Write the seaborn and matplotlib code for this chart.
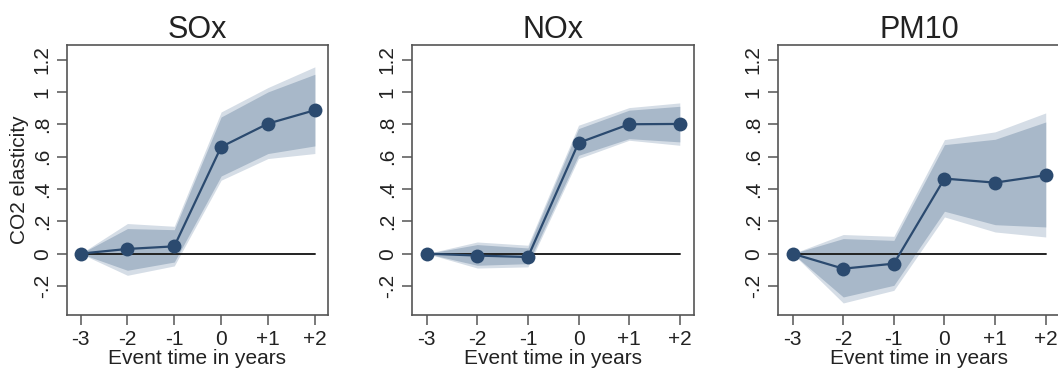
import pandas as pd
import numpy as np
import seaborn as sns
import matplotlib.pyplot as plt

# Data
event_time = [-3, -2, -1, 0, 1, 2]
tick_labels = ["-3", "-2", "-1", "0", "+1", "+2"]
pollutants = ["SOx", "NOx", "PM10"]

sox_coef = [0.0, 0.029, 0.045, 0.660, 0.804, 0.887]
sox_hi95 = [0.0, 0.186, 0.169, 0.876, 1.027, 1.155]
sox_lo95 = [0.0, -0.134, -0.076, 0.454, 0.588, 0.619]
sox_hi90 = [0.0, 0.155, 0.148, 0.845, 1.000, 1.109]
sox_lo90 = [0.0, -0.103, -0.052, 0.480, 0.619, 0.666]

nox_coef = [0.0, -0.012, -0.021, 0.685, 0.800, 0.802]
nox_hi95 = [0.0, 0.072, 0.052, 0.794, 0.903, 0.932]
nox_lo95 = [0.0, -0.089, -0.082, 0.588, 0.701, 0.670]
nox_hi90 = [0.0, 0.056, 0.035, 0.773, 0.887, 0.911]
nox_lo90 = [0.0, -0.072, -0.062, 0.608, 0.711, 0.691]

pm10_coef = [0.0, -0.093, -0.062, 0.464, 0.439, 0.485]
pm10_hi95 = [0.0, 0.118, 0.107, 0.705, 0.753, 0.870]
pm10_lo95 = [0.0, -0.305, -0.227, 0.227, 0.134, 0.103]
pm10_hi90 = [0.0, 0.093, 0.082, 0.674, 0.707, 0.814]
pm10_lo90 = [0.0, -0.268, -0.196, 0.262, 0.179, 0.165]

y_ticks = [-0.2, 0, 0.2, 0.4, 0.6, 0.8, 1.0, 1.2]
y_tick_labels = ["-.2", "0", ".2", ".4", ".6", ".8", "1", "1.2"]

NAVY = "#2b4a6f"
INNER = "#a8b8c9"
OUTER = "#d5dde6"
FRAME = "#555555"

series = {
    "SOx": (sox_coef, sox_lo95, sox_hi95, sox_lo90, sox_hi90),
    "NOx": (nox_coef, nox_lo95, nox_hi95, nox_lo90, nox_hi90),
    "PM10": (pm10_coef, pm10_lo95, pm10_hi95, pm10_lo90, pm10_hi90),
}

rows = []
for name in pollutants:
    coef, lo95, hi95, lo90, hi90 = series[name]
    for t, c, a, b, d, e in zip(event_time, coef, lo95, hi95, lo90, hi90):
        rows.append(dict(pollutant=name, t=t, coef=c, lo95=a, hi95=b, lo90=d, hi90=e))
df = pd.DataFrame(rows)

sns.set_theme(style="white")
plt.rcParams.update({
    "font.family": ["Liberation Sans", "DejaVu Sans"],
    "axes.edgecolor": FRAME,
    "axes.linewidth": 1.2,
    "xtick.color": FRAME,
    "ytick.color": FRAME,
    "xtick.labelcolor": "#222222",
    "ytick.labelcolor": "#222222",
})

fig = plt.figure(figsize=(10.58, 3.72), dpi=100)
positions = [
    [0.0633, 0.153, 0.2467, 0.726],
    [0.3894, 0.153, 0.2665, 0.726],
    [0.7353, 0.153, 0.2665, 0.726],
]

for i, name in enumerate(pollutants):
    ax = fig.add_axes(positions[i])
    d = df[df["pollutant"] == name]
    ax.fill_between(d["t"], d["lo95"], d["hi95"], color=OUTER, lw=0, zorder=1)
    ax.fill_between(d["t"], d["lo90"], d["hi90"], color=INNER, lw=0, zorder=2)
    ax.plot([event_time[0], event_time[-1]], [0, 0], color="#222222", lw=1.4, zorder=3)
    sns.lineplot(data=d, x="t", y="coef", ax=ax, color=NAVY, lw=1.6,
                 marker="o", markersize=10, markeredgewidth=0, zorder=4)

    ax.set_xlim(-3.29, 2.28)
    ax.set_ylim(-0.38, 1.29)
    ax.set_xticks(event_time)
    ax.set_xticklabels(tick_labels)
    ax.set_yticks(y_ticks)
    ax.set_yticklabels(y_tick_labels, rotation=90, va="center")
    ax.tick_params(axis="both", length=7, width=1.1, labelsize=15, pad=4,
                   bottom=True, left=True)
    ax.set_title(name, fontsize=22, color="#222222", pad=5)
    ax.set_xlabel("Event time in years", fontsize=15, color="#222222", labelpad=0)
    if i == 0:
        ax.set_ylabel("CO2 elasticity", fontsize=15, color="#222222", labelpad=3)
    else:
        ax.set_ylabel("")
    for s in ax.spines.values():
        s.set_visible(True)

fig.savefig("out.png", dpi=100, facecolor="white")
